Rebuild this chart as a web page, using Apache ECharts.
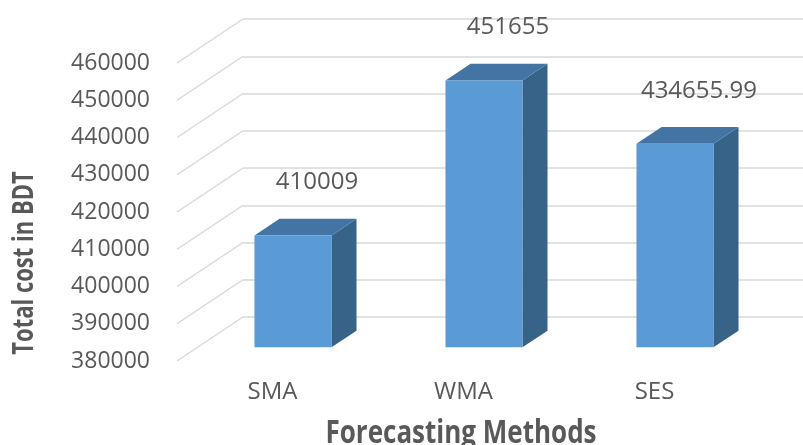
<!DOCTYPE html>
<html>
<head>
<meta charset="utf-8">
<script src="https://cdn.jsdelivr.net/npm/echarts@6/dist/echarts.min.js"></script>
<style>
  html, body { margin: 0; padding: 0; background: #ffffff; }
  #chart { width: 803px; height: 445px; }
</style>
</head>
<body>
<div id="chart"></div>
<script>
const categories = ['SMA', 'WMA', 'SES'];
const values = [410009, 451655, 434655.99];
const valueLabels = ['410009', '451655', '434655.99'];
const yMin = 380000;
const yMax = 460000;
const yStep = 10000;
const yTicks = [380000, 390000, 400000, 410000, 420000, 430000, 440000, 450000, 460000];
const yTitle = 'Total cost in BDT';
const xTitle = 'Forecasting Methods';

// 3D look (styling only)
const DX = 66, DY = -44;       // depth vector from front plane to back wall
const D0 = 0.31, DD = 0.38;    // bar depth start and depth thickness (fraction)
const BAR_W = 0.403;           // bar width as fraction of category band
const FONT = "'Open Sans', 'DejaVu Sans', sans-serif";
const TXT = '#595959';
const GRID_C = '#D9D9D9';
const G = { left: 177, right: 53, top: 63, bottom: 84 };

const chart = echarts.init(document.getElementById('chart'), null, { renderer: 'canvas' });

const option = {
  animation: false,
  backgroundColor: '#ffffff',
  grid: [
    { left: G.left, right: G.right, top: G.top, bottom: G.bottom },
    { left: G.left + DX, right: G.right - DX, top: G.top + DY, bottom: G.bottom - DY }
  ],
  graphic: [
    {
      type: 'text', x: 25, y: 263, rotation: Math.PI / 2, scaleY: 1.27,
      style: { text: yTitle, fill: TXT, fontSize: 22, fontWeight: 'bold', fontFamily: FONT,
               align: 'center', verticalAlign: 'middle' }
    },
    {
      type: 'text', x: 461, y: 434, scaleY: 1.25,
      style: { text: xTitle, fill: TXT, fontSize: 26, fontWeight: 'bold', fontFamily: FONT,
               align: 'center', verticalAlign: 'middle' }
    }
  ],
  xAxis: [
    {
      gridIndex: 0, type: 'category', data: categories,
      axisLine: { show: false }, axisTick: { show: false },
      axisLabel: { color: TXT, fontSize: 24, fontFamily: FONT, margin: 19 }
    },
    { gridIndex: 1, type: 'category', data: categories, show: false }
  ],
  yAxis: [
    {
      gridIndex: 0, type: 'value', min: yMin, max: yMax, interval: yStep,
      axisLine: { show: false }, axisTick: { show: false }, splitLine: { show: false },
      axisLabel: { color: TXT, fontSize: 23, fontFamily: FONT, margin: 27,
                   formatter: v => String(v), padding: [3, 0, 0, 0] }
    },
    {
      gridIndex: 1, type: 'value', min: yMin, max: yMax, interval: yStep,
      axisLine: { show: false }, axisTick: { show: false }, axisLabel: { show: false },
      splitLine: { show: true, lineStyle: { color: GRID_C, width: 1.5 } }
    }
  ],
  series: [
    {
      type: 'custom', xAxisIndex: 0, yAxisIndex: 0, clip: false, silent: true,
      data: yTicks.map(v => [0, v]),
      renderItem: function (params, api) {
        const p = api.coord([0, api.value(1)]);
        const x = params.coordSys.x;
        return {
          type: 'line',
          shape: { x1: x, y1: p[1], x2: x + DX, y2: p[1] + DY },
          style: { stroke: GRID_C, lineWidth: 1.5 }
        };
      },
      z: 1
    },
    {
      type: 'custom', xAxisIndex: 0, yAxisIndex: 0, clip: false,
      data: values.map((v, i) => [i, v]),
      renderItem: function (params, api) {
        const i = api.value(0);
        const v = api.value(1);
        const base = api.coord([i, yMin]);
        const top = api.coord([i, v]);
        const band = api.size([1, 0])[0];
        const w = band * BAR_W;
        const x0 = base[0] - w / 2 + DX * D0;
        const yb = base[1] + DY * D0;
        const yt = top[1] + DY * D0;
        const ddx = DX * DD, ddy = DY * DD;
        return {
          type: 'group',
          children: [
            {
              type: 'polygon',
              shape: { points: [[x0 + w, yt], [x0 + w + ddx, yt + ddy], [x0 + w + ddx, yb + ddy], [x0 + w, yb]] },
              style: { fill: '#386389' }
            },
            {
              type: 'polygon',
              shape: { points: [[x0, yt], [x0 + w, yt], [x0 + w + ddx, yt + ddy], [x0 + ddx, yt + ddy]] },
              style: { fill: '#4374A4' }
            },
            {
              type: 'rect',
              shape: { x: x0, y: yt, width: w, height: yb - yt },
              style: { fill: '#5B9BD5' }
            },
            {
              type: 'text',
              style: {
                text: valueLabels[params.dataIndex],
                x: x0 + w / 2 + 24, y: yt - 53,
                align: 'center', verticalAlign: 'middle',
                fill: TXT, fontSize: 24, fontFamily: FONT
              }
            }
          ]
        };
      },
      z: 2
    }
  ]
};
chart.setOption(option);
</script>
</body>
</html>
